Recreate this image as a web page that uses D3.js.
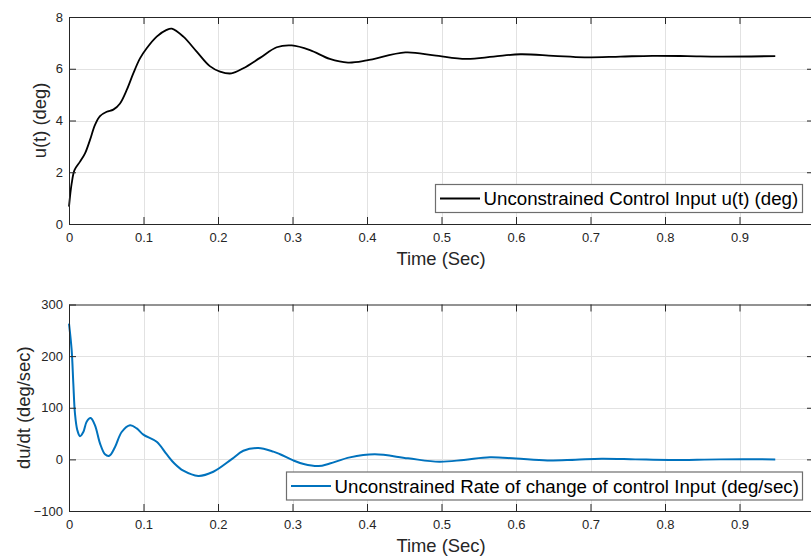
<!DOCTYPE html>
<html>
<head>
<meta charset="utf-8">
<script src="https://cdn.jsdelivr.net/npm/d3@7"></script>
<style>
  html, body { margin: 0; padding: 0; background: #fff; }
  svg { display: block; }
  text { font-family: "Liberation Sans", Arial, sans-serif; }
</style>
</head>
<body>
<svg id="chart" width="811" height="559"></svg>
<script>
// ---------- DATA ----------
const xTicks = [0, 0.1, 0.2, 0.3, 0.4, 0.5, 0.6, 0.7, 0.8, 0.9, 1];
const xTickLabels = ["0", "0.1", "0.2", "0.3", "0.4", "0.5", "0.6", "0.7", "0.8", "0.9", ""];
const uTicks = [0, 2, 4, 6, 8];
const dTicks = [-100, 0, 100, 200, 300];

const uTime = [0, 0.0036, 0.0075, 0.0148, 0.0215, 0.0282, 0.0349, 0.0416, 0.0506, 0.0595,
  0.0685, 0.0775, 0.0863, 0.0953, 0.1043, 0.1177, 0.131, 0.138, 0.1535, 0.1714,
  0.189, 0.2027, 0.218, 0.234, 0.2564, 0.2788, 0.299, 0.3235, 0.35, 0.3745,
  0.3996, 0.4515, 0.49, 0.533, 0.57, 0.606, 0.65, 0.692, 0.74, 0.783, 0.83, 0.874, 0.948];
const uValues = [0.67, 1.57, 2.09, 2.41, 2.73, 3.25, 3.83, 4.17, 4.34, 4.42,
  4.66, 5.18, 5.82, 6.40, 6.79, 7.24, 7.50, 7.55, 7.24, 6.66,
  6.10, 5.89, 5.82, 6.02, 6.42, 6.83, 6.90, 6.72, 6.38, 6.24,
  6.32, 6.63, 6.52, 6.38, 6.47, 6.56, 6.50, 6.44, 6.47, 6.50, 6.49, 6.47, 6.49];

const dTime = [0, 0.0036, 0.0058, 0.008, 0.0111, 0.0148, 0.0192, 0.0237, 0.029, 0.0349,
  0.0416, 0.0483, 0.0541, 0.0618, 0.0707, 0.0819, 0.0909, 0.0998, 0.1177, 0.131,
  0.1415, 0.1535, 0.1736, 0.1937, 0.218, 0.234, 0.254, 0.2743, 0.2833, 0.301,
  0.315, 0.335, 0.35, 0.377, 0.4105, 0.455, 0.497, 0.53, 0.565, 0.6,
  0.642, 0.68, 0.715, 0.76, 0.806, 0.874, 0.948];
const dValues = [263, 211, 147, 89, 57, 45, 53, 73, 80, 66,
  31, 10, 7, 24, 53, 66, 60, 48, 34, 10,
  -8, -22, -32, -24, 0, 16.7, 22, 15, 10, -2,
  -9, -13, -8, 3.9, 9.7, 2, -4.6, -1, 3.9, 1.5,
  -2, -0.5, 1.2, 0, -1.2, 0, 0];

const legendTop = "Unconstrained Control Input u(t) (deg)";
const legendBottom = "Unconstrained Rate of change of control Input (deg/sec)";
const xLabel = "Time (Sec)";
const yLabelTop = "u(t) (deg)";
const yLabelBottom = "du/dt (deg/sec)";

// ---------- DRAW ----------
const svg = d3.select("#chart");
svg.append("rect").attr("width", 811).attr("height", 559).attr("fill", "#fff");

const axisColor = "#262626";
const gridColor = "#e2e2e2";

function panel(cfg) {
  const x = d3.scaleLinear().domain([0, 1]).range([cfg.left, cfg.right]);
  const y = d3.scaleLinear().domain(cfg.yDomain).range([cfg.bottom, cfg.top]);
  const g = svg.append("g");

  // grid
  g.append("g").selectAll("line").data(xTicks.slice(1, -1)).join("line")
    .attr("x1", d => Math.round(x(d)) + 0.5).attr("x2", d => Math.round(x(d)) + 0.5)
    .attr("y1", cfg.top).attr("y2", cfg.bottom)
    .attr("stroke", gridColor).attr("stroke-width", 1);
  g.append("g").selectAll("line").data(cfg.yTicks.slice(1, -1)).join("line")
    .attr("y1", d => Math.round(y(d)) + 0.5).attr("y2", d => Math.round(y(d)) + 0.5)
    .attr("x1", cfg.left).attr("x2", cfg.right)
    .attr("stroke", gridColor).attr("stroke-width", 1);

  // curve
  const line = d3.line().x(d => x(d[0])).y(d => y(d[1])).curve(d3.curveCatmullRom.alpha(0.5));
  g.append("path").datum(d3.zip(cfg.t, cfg.v))
    .attr("d", line).attr("fill", "none")
    .attr("stroke", cfg.color).attr("stroke-width", cfg.width)
    .attr("stroke-linejoin", "round");

  // axes
  const ax = d3.axisBottom(x).tickValues(xTicks).tickSize(-7).tickSizeOuter(0).tickPadding(9)
    .tickFormat((d, i) => xTickLabels[i]);
  const axT = d3.axisTop(x).tickValues(xTicks).tickSize(-7).tickSizeOuter(0).tickFormat("");
  const ay = d3.axisLeft(y).tickValues(cfg.yTicks).tickSize(-7).tickSizeOuter(0).tickPadding(6)
    .tickFormat(d3.format("d"));
  const ayR = d3.axisRight(y).tickValues(cfg.yTicks).tickSize(-7).tickSizeOuter(0).tickFormat("");

  function style(sel) {
    sel.selectAll("path.domain").attr("stroke", axisColor);
    sel.selectAll(".tick line").attr("stroke", axisColor);
    sel.selectAll(".tick text").attr("fill", axisColor)
      .style("font-family", '"Liberation Sans", Arial, sans-serif').style("font-size", "13px");
  }
  style(g.append("g").attr("transform", `translate(0,${cfg.bottom})`).call(ax));
  style(g.append("g").attr("transform", `translate(0,${cfg.top})`).call(axT));
  style(g.append("g").attr("transform", `translate(${cfg.left},0)`).call(ay));
  style(g.append("g").attr("transform", `translate(${cfg.right},0)`).call(ayR));

  // labels
  g.append("text").attr("x", 441).attr("y", cfg.xLabelY)
    .attr("text-anchor", "middle").attr("fill", axisColor)
    .style("font-size", "18.4px").text(xLabel);
  g.append("text")
    .attr("transform", `translate(${cfg.yLabelX},${(cfg.top + cfg.bottom) / 2 + cfg.yLabelShift}) rotate(-90)`)
    .attr("text-anchor", "middle").attr("fill", axisColor)
    .style("font-size", "18.4px").text(cfg.yLabel);

  // legend
  const L = cfg.legend;
  const lg = g.append("g");
  lg.append("rect").attr("x", L.x).attr("y", L.y).attr("width", L.w).attr("height", L.h)
    .attr("fill", "#fff").attr("stroke", "#6e6e6e").attr("stroke-width", 1.2);
  lg.append("line").attr("x1", L.x + 4.5).attr("x2", L.x + 44.5)
    .attr("y1", L.y + L.h / 2).attr("y2", L.y + L.h / 2)
    .attr("stroke", cfg.color).attr("stroke-width", cfg.width);
  lg.append("text").attr("x", L.x + 48).attr("y", L.y + L.h / 2 + 6.6)
    .attr("fill", "#000").style("font-size", "18.7px").text(L.text);
}

panel({
  left: 69, right: 814, top: 17, bottom: 224,
  yDomain: [0, 8], yTicks: uTicks, t: uTime, v: uValues,
  color: "#000", width: 1.8,
  xLabelY: 265, yLabelX: 46, yLabelShift: 0, yLabel: yLabelTop,
  legend: { x: 435.5, y: 184.5, w: 367, h: 28, text: legendTop }
});

panel({
  left: 69, right: 814, top: 304.5, bottom: 511,
  yDomain: [-100, 300], yTicks: dTicks, t: dTime, v: dValues,
  color: "#0072BD", width: 2,
  xLabelY: 552, yLabelX: 30, yLabelShift: 0, yLabel: yLabelBottom,
  legend: { x: 286.5, y: 472, w: 516, h: 28, text: legendBottom }
});
</script>
</body>
</html>
